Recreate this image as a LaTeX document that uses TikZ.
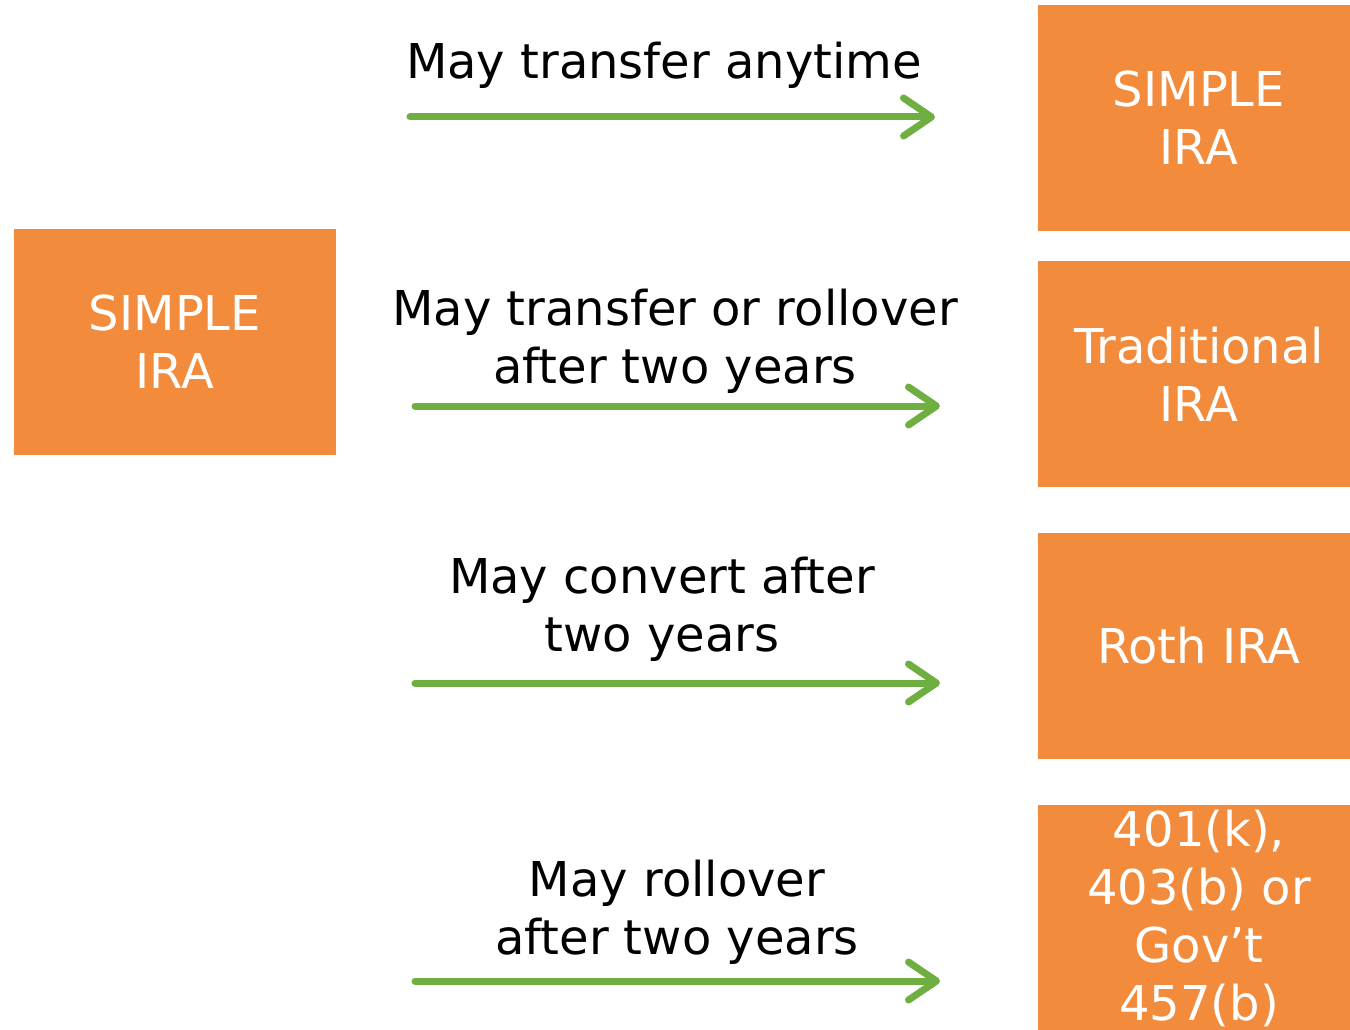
\documentclass[tikz,border=0pt]{standalone}
\usepackage{fontspec}
\setmainfont{DejaVu Sans}
\usetikzlibrary{positioning, arrows.meta}
\definecolor{iraorange}{HTML}{F38B3C}
\definecolor{movegreen}{HTML}{6FAE40}

\begin{document}
\begin{tikzpicture}[x=1pt, y=-1pt,
	account/.style={fill=iraorange, text=white, minimum width=322pt, minimum height=226pt,
		inner sep=0pt, align=center, font=\fontsize{48}{58}\selectfont},
	movetext/.style={text=black, align=center, inner sep=0pt, font=\fontsize{48}{58}\selectfont},
	move/.style={draw=movegreen, line width=7pt, line cap=round,
		-{Straight Barb[length=28pt, width=38pt, line cap=round, round]}}]
	
	\useasboundingbox (0,0) rectangle (1350,1030);
	
	% source account
	\node (simple) at (175,342) [account]{SIMPLE\\IRA};
	
	% target accounts
	\node (tsimple) at (1199,118) [account]{SIMPLE\\IRA};
	\node (trad) at (1199,374) [account]{Traditional\\IRA};
	\node (roth) at (1199,646) [account]{Roth IRA};
	\node (plan) at (1199,918) [account]{401(k),\\403(b) or\\Gov’t\\457(b)};
	
	% arrows
	\coordinate (s1) at (410,117);
	\coordinate (e1) at (935,117);
	\coordinate (s2) at (415,406);
	\coordinate (e2) at (940,406);
	\coordinate (s3) at (415,683);
	\coordinate (e3) at (940,683);
	\coordinate (s4) at (415,981);
	\coordinate (e4) at (940,981);
	
	\draw[move] (s1) -- (e1);
	\draw[move] (s2) -- (e2);
	\draw[move] (s3) -- (e3);
	\draw[move] (s4) -- (e4);
	
	\node (l1) at (664,65) [movetext]{May transfer anytime};
	\node (l2) at (675,341) [movetext]{May transfer or rollover\\after two years};
	\node (l3) at (662,609) [movetext]{May convert after\\two years};
	\node (l4) at (677,912) [movetext]{May rollover\\after two years};
	
\end{tikzpicture}
\end{document}
